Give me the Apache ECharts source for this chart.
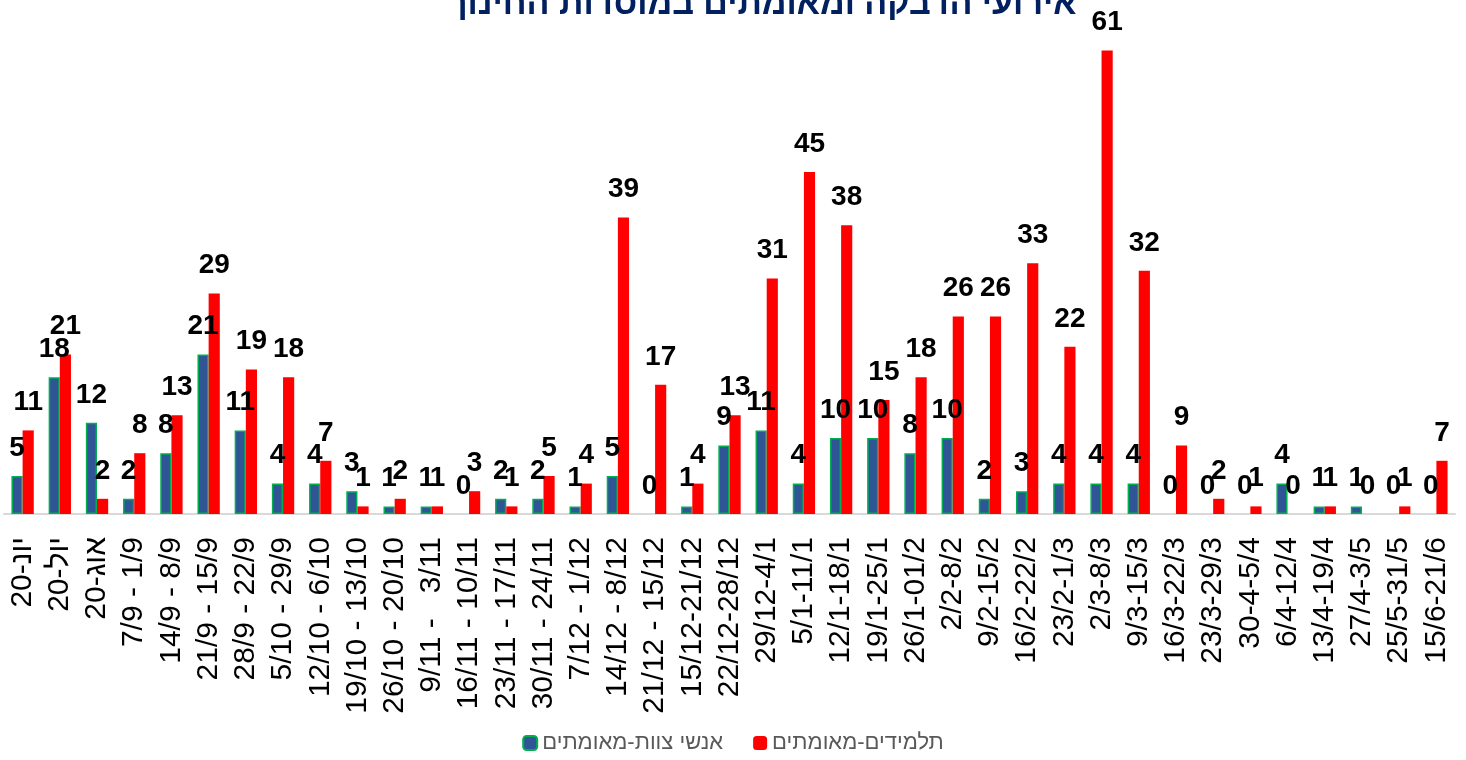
<!DOCTYPE html>
<html>
<head>
<meta charset="utf-8">
<script src="https://cdn.jsdelivr.net/npm/echarts@6/dist/echarts.min.js"></script>
<style>
  html, body { margin: 0; padding: 0; background: #fff; }
  #main { width: 1466px; height: 760px; }
</style>
</head>
<body>
<div id="main"></div>
<script>
// שבועות / חודשים
var weeks = [
  '20-יונ', '20-יול', '20-אוג',
  '7/9 - 1/9', '14/9 - 8/9', '21/9 - 15/9', '28/9 - 22/9', '5/10 - 29/9',
  '12/10 - 6/10', '19/10 - 13/10', '26/10 - 20/10', '9/11 -   3/11', '16/11 - 10/11',
  '23/11 - 17/11', '30/11 - 24/11', '7/12 - 1/12', '14/12 - 8/12', '21/12 - 15/12',
  '15/12-21/12', '22/12-28/12', '29/12-4/1', '5/1-11/1', '12/1-18/1', '19/1-25/1',
  '26/1-01/2', '2/2-8/2', '9/2-15/2', '16/2-22/2', '23/2-1/3', '2/3-8/3', '9/3-15/3',
  '16/3-22/3', '23/3-29/3', '30-4-5/4', '6/4-12/4', '13/4-19/4', '27/4-3/5',
  '25/5-31/5', '15/6-21/6'
];

// אנשי צוות-מאומתים
var staff = [5, 18, 12, 2, 8, 21, 11, 4, 4, 3, 1, 1, 0, 2, 2, 1, 5, 0, 1, 9,
  11, 4, 10, 10, 8, 10, 2, 3, 4, 4, 4, 0, 0, 0, 4, 1, 1, 0, 0];

// תלמידים-מאומתים
var students = [11, 21, 2, 8, 13, 29, 19, 18, 7, 1, 2, 1, 3, 1, 5, 4, 39, 17, 4, 13,
  31, 45, 38, 15, 18, 26, 26, 33, 22, 61, 32, 9, 2, 1, 0, 1, 0, 1, 7];

var myChart = echarts.init(document.getElementById('main'));

var labelStyle = {
  show: true,
  position: 'top',
  distance: 14,
  color: '#000',
  fontSize: 28,
  fontWeight: 'bold',
  fontFamily: 'Liberation Sans'
};

// בלי מסגרת ירוקה לעמודות באפס
var staffData = staff.map(function (v) {
  return v === 0 ? { value: 0, itemStyle: { borderWidth: 0 } } : v;
});

var option = {
  animation: false,
  title: {
    text: 'אירועי הדבקה ומאומתים במוסדות החינוך',
    left: 443,
    top: -17,
    textStyle: {
      color: '#002060',
      fontSize: 34,
      fontWeight: 'bold',
      fontFamily: 'Liberation Sans'
    }
  },
  legend: {
    bottom: 1,
    left: 'center',
    itemGap: 30,
    itemWidth: 14,
    itemHeight: 14,
    textStyle: {
      color: '#595959',
      fontSize: 22,
      fontFamily: 'Liberation Sans'
    },
    data: ['אנשי צוות-מאומתים', 'תלמידים-מאומתים']
  },
  grid: {
    left: 4,
    right: 11,
    top: 20,
    bottom: 246,
    containLabel: false
  },
  xAxis: {
    type: 'category',
    data: weeks,
    axisLine: { lineStyle: { color: '#d9d9d9', width: 2 } },
    axisTick: { show: false },
    axisLabel: {
      interval: 0,
      rotate: 90,
      margin: 23,
      color: '#000',
      fontSize: 30,
      fontFamily: 'Liberation Sans'
    }
  },
  yAxis: {
    type: 'value',
    min: 0,
    max: 65,
    show: false,
    splitLine: { show: false }
  },
  series: [
    {
      name: 'אנשי צוות-מאומתים',
      type: 'bar',
      data: staffData,
      barGap: '0%',
      barCategoryGap: '40%',
      itemStyle: {
        color: '#2f5597',
        borderColor: '#00b050',
        borderWidth: 1.5
      },
      label: labelStyle
    },
    {
      name: 'תלמידים-מאומתים',
      type: 'bar',
      data: students,
      itemStyle: { color: '#ff0000' },
      label: labelStyle
    }
  ]
};

myChart.setOption(option);
</script>
</body>
</html>
